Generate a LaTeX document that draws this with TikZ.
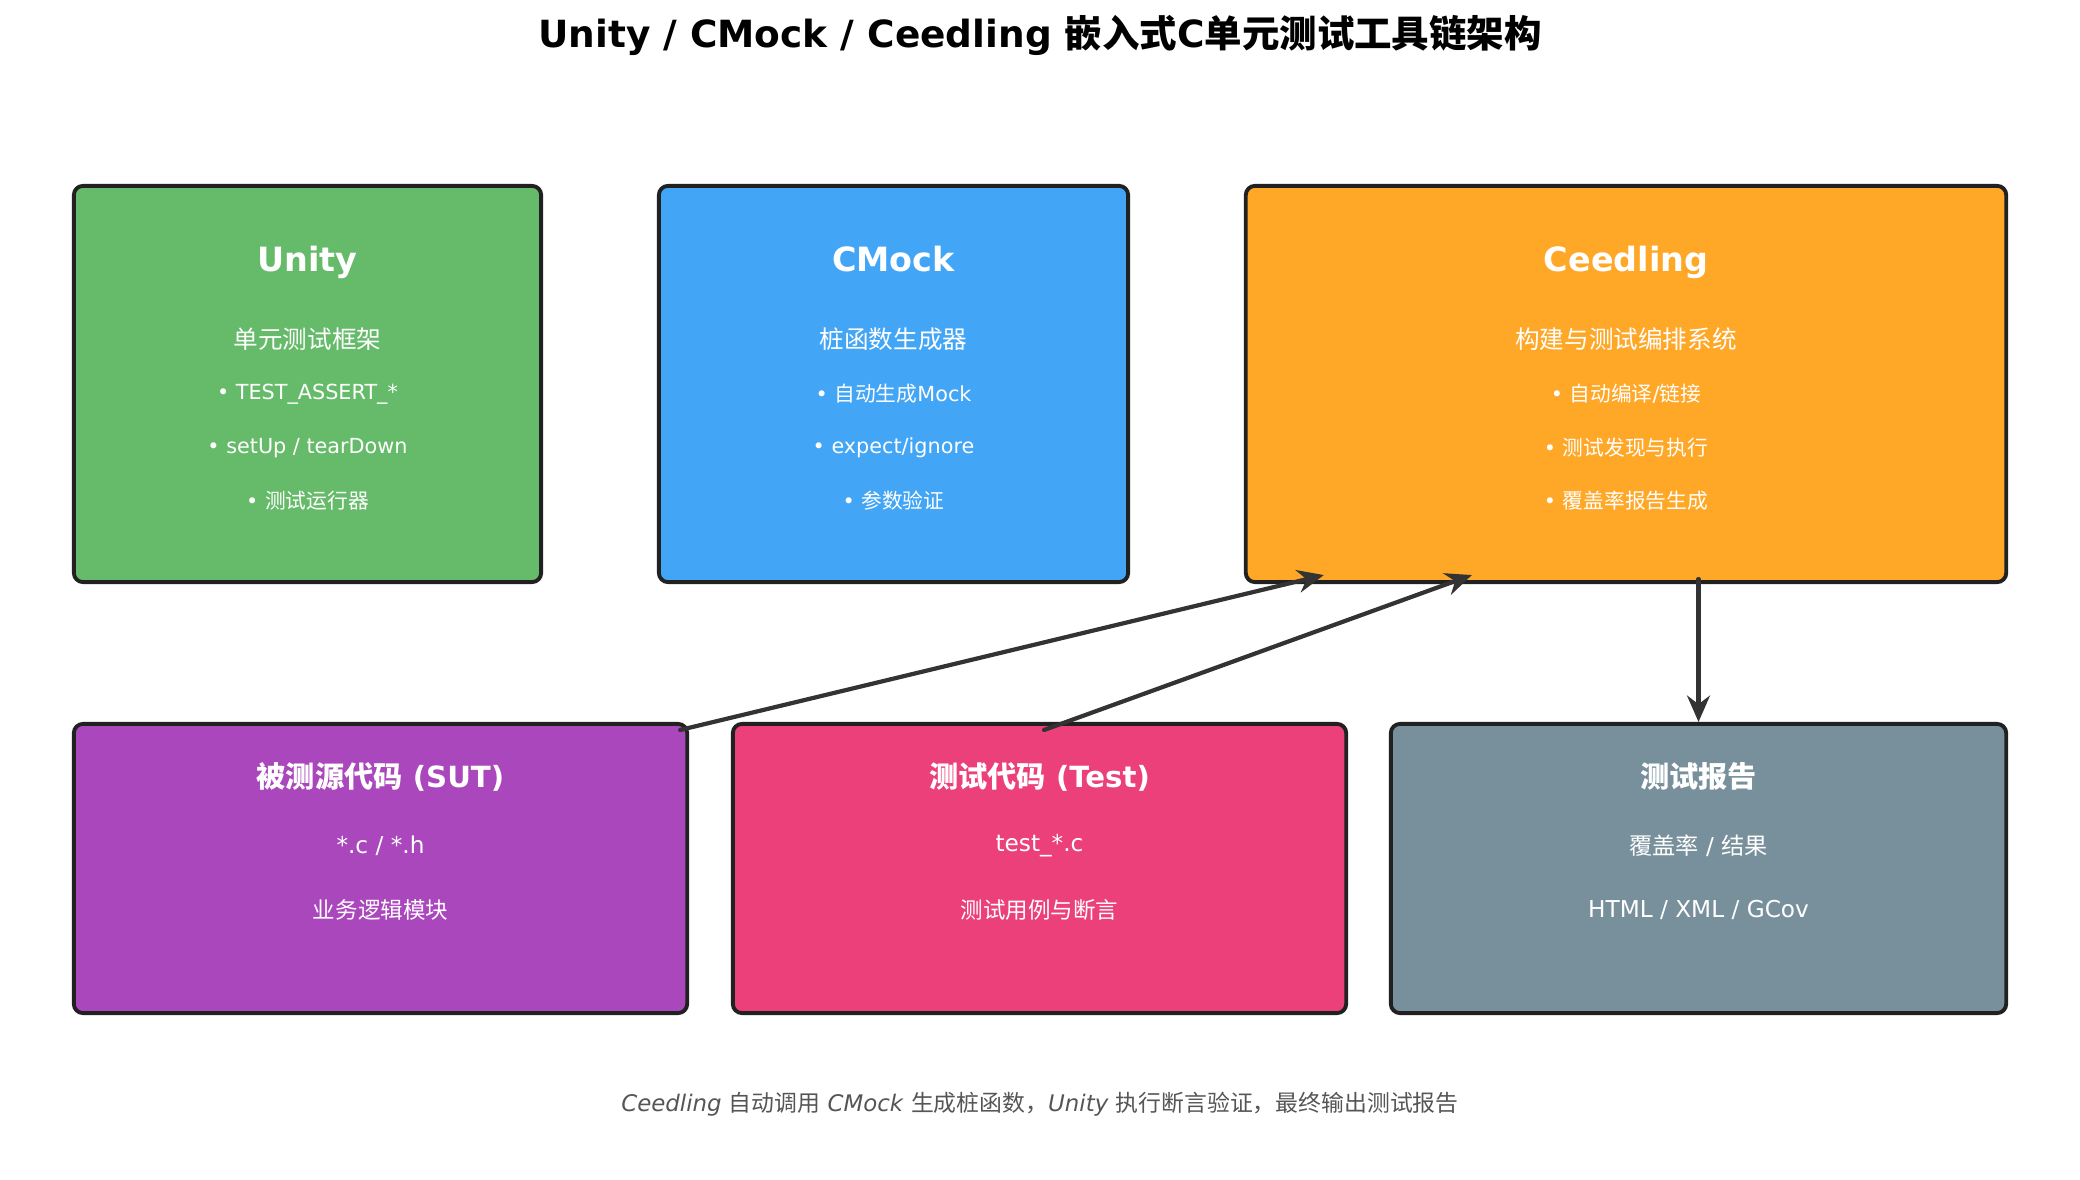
\documentclass[tikz,border=0pt]{standalone}
\usepackage{fontspec}
\setmainfont{DejaVu Sans}[BoldFont={DejaVu Sans Bold}, ItalicFont={DejaVu Sans Oblique}]
\newfontfamily\cjk{Noto Sans CJK SC}
\newcommand{\zh}[1]{{\cjk #1}}
\usepackage{xcolor}
\usetikzlibrary{arrows.meta, calc}
\definecolor{unitygreen}{RGB}{102,187,106}
\definecolor{cmockblue}{RGB}{66,165,245}
\definecolor{ceedorange}{RGB}{255,167,38}
\definecolor{sutpurple}{RGB}{171,71,188}
\definecolor{testpink}{RGB}{236,64,122}
\definecolor{reportgray}{RGB}{120,144,156}
\definecolor{edge}{RGB}{33,33,33}
\definecolor{arrowgray}{RGB}{51,51,51}
\definecolor{notegray}{RGB}{85,85,85}

\tikzset{
  box/.style={draw=edge, line width=1.1pt, rounded corners=2.6pt, inner sep=0pt},
  boxtitle/.style={text=white, inner sep=0pt, text depth=0pt, font=\fontsize{9.5}{11}\selectfont\bfseries},
  boxlead/.style={text=white, inner sep=0pt, font=\fontsize{7.0}{8}\selectfont},
  boxsub/.style={text=white, inner sep=0pt, font=\fontsize{6.6}{8}\selectfont},
  boxitem/.style={text=white, inner sep=0pt, font=\fontsize{5.9}{7}\selectfont},
  flow/.style={draw=arrowgray, line width=1.2pt, line cap=round, -{Stealth[length=7.5pt, width=6.5pt]}}
}

\begin{document}
\begin{tikzpicture}[x=0.01cm, y=-0.01cm]
  \useasboundingbox (0,0) rectangle (2080,1180);
  % title
  \node[inner sep=0pt, font=\fontsize{10.65}{12}\selectfont\bfseries] (title) at (1040,35)
    {Unity / CMock / Ceedling \zh{嵌入式}C\zh{单元测试工具链架构}};
  % top row
  \node[box, fill=unitygreen, minimum width=4.67cm, minimum height=3.96cm] (unity) at (307.5,384) {};
  \node[box, fill=cmockblue, minimum width=4.69cm, minimum height=3.96cm] (cmock) at (893.5,384) {};
  \node[box, fill=ceedorange, minimum width=7.60cm, minimum height=3.96cm] (ceedling) at (1626,384) {};
  % bottom row
  \node[box, fill=sutpurple, minimum width=6.13cm, minimum height=2.89cm] (sut) at (380.5,868.5) {};
  \node[box, fill=testpink, minimum width=6.13cm, minimum height=2.89cm] (test) at (1039.5,868.5) {};
  \node[box, fill=reportgray, minimum width=6.15cm, minimum height=2.89cm] (report) at (1698.5,868.5) {};
  % unity text
  \node[boxtitle] (unityname) at (307.5,259) {Unity};
  \node[boxlead]  (unitysub)  at (307.5,339) {\zh{单元测试框架}};
  \node[boxitem]  (unitya)    at (307.5,394) {• TEST\_ASSERT\_*};
  \node[boxitem]  (unityb)    at (307.5,448) {• setUp / tearDown};
  \node[boxitem]  (unityc)    at (307.5,501) {• \zh{测试运行器}};
  % cmock text
  \node[boxtitle] (cmockname) at (893.5,259) {CMock};
  \node[boxlead]  (cmocksub)  at (893.5,339) {\zh{桩函数生成器}};
  \node[boxitem]  (cmocka)    at (893.5,394) {• \zh{自动生成}Mock};
  \node[boxitem]  (cmockb)    at (893.5,448) {• expect/ignore};
  \node[boxitem]  (cmockc)    at (893.5,501) {• \zh{参数验证}};
  % ceedling text
  \node[boxtitle] (ceedname) at (1626,259) {Ceedling};
  \node[boxlead]  (ceedsub)  at (1626,339) {\zh{构建与测试编排系统}};
  \node[boxitem]  (ceeda)    at (1626,394) {• \zh{自动编译}/\zh{链接}};
  \node[boxitem]  (ceedb)    at (1626,448) {• \zh{测试发现与执行}};
  \node[boxitem]  (ceedc)    at (1626,501) {• \zh{覆盖率报告生成}};
  % bottom text
  \node[boxtitle, font=\fontsize{8.3}{10}\selectfont\bfseries] (sutname) at (380.5,775) {\zh{被测源代码} (SUT)};
  \node[boxsub]   (suta)  at (380.5,846) {*.c / *.h};
  \node[boxitem, font=\fontsize{6.4}{8}\selectfont] (sutb)  at (380.5,910) {\zh{业务逻辑模块}};
  \node[boxtitle, font=\fontsize{8.3}{10}\selectfont\bfseries] (testname) at (1039.5,775) {\zh{测试代码} (Test)};
  \node[boxsub]   (testa) at (1039.5,846) {test\_*.c};
  \node[boxitem, font=\fontsize{6.4}{8}\selectfont] (testb) at (1039.5,910) {\zh{测试用例与断言}};
  \node[boxtitle, font=\fontsize{8.3}{10}\selectfont\bfseries] (reportname) at (1698.5,775) {\zh{测试报告}};
  \node[boxsub]   (reporta) at (1698.5,846) {\zh{覆盖率} / \zh{结果}};
  \node[boxsub]   (reportb) at (1698.5,910) {HTML / XML / GCov};
  % connectors
  \draw[flow] ($(sut.north east)+(-9,8)$) -- ($(ceedling.south west)+(80,-9)$);
  \draw[flow] ($(test.north)+(4.5,8)$) -- ($(ceedling.south west)+(228,-9)$);
  \draw[flow] ($(report.north |- ceedling.south)+(0,-5)$) -- (report.north);
  % footnote
  \node[inner sep=0pt, text=notegray, font=\fontsize{6.5}{8}\selectfont] (note) at (1040,1104)
    {\textit{Ceedling} \zh{自动调用} \textit{CMock} \zh{生成桩函数，}\textit{Unity} \zh{执行断言验证，最终输出测试报告}};
\end{tikzpicture}
\end{document}
